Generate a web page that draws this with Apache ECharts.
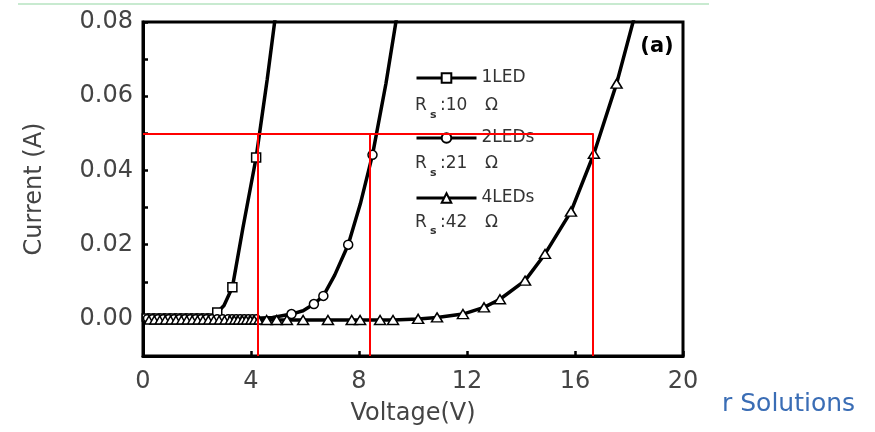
<!DOCTYPE html>
<html><head><meta charset="utf-8">
<script src="https://cdn.jsdelivr.net/npm/echarts@6/dist/echarts.min.js"></script>
<style>html,body{margin:0;padding:0;background:#fff}#c{width:875px;height:432px}</style>
</head><body><div id="c"></div>
<script>
const FONT = 'DejaVu Sans';
// axis ranges
const xMin = 0, xMax = 20, xStep = 4;
const yMin = -0.01, yMax = 0.08, yStep = 0.01;
const yLabelEvery = 0.02;

// legend / series names
const seriesNames = ['1LED', '2LEDs', '4LEDs'];
const resistances = ['10', '21', '42'];

// 1 LED (squares): dense low-voltage points, marked points, extra line points
const led1DenseV = [0.10,0.30,0.50,0.70,0.90,1.10,1.30,1.50,1.70,1.90,2.10,2.30,2.50];
const led1DenseI = 0.0004;
const led1Marks = [[2.75,0.0017],[3.31,0.0085],[4.19,0.0435]];
const led1Line  = [[0.00,0.0004],[3.00,0.0036],[3.70,0.0245],[4.60,0.0645],[5.00,0.0870]];

// 2 LEDs (circles)
const led2DenseV = [0.15,0.35,0.55,0.75,0.95,1.15,1.35,1.55,1.75,1.95,2.15,2.35,2.55,2.75,2.95,3.15,3.30,3.45,3.60,3.75,3.90,4.05,4.20];
const led2DenseI = 0.0002;
const led2Marks = [[5.50,0.0013],[6.33,0.0040],[6.68,0.0062],[7.60,0.0200],[8.50,0.0442]];
const led2Line  = [[0.00,0.0002],[4.80,0.0004],[5.93,0.0022],[7.10,0.0118],[8.05,0.0310],[9.00,0.0635],[9.50,0.0860]];

// 4 LEDs (triangles)
const led4DenseV = [0.22,0.42,0.62,0.82,1.02,1.22,1.42,1.62,1.82,2.02,2.22,2.42,2.62,2.82,3.02,3.22,3.38,3.52,3.68,3.82,3.98,4.12,4.28];
const led4DenseI = -0.0003;
const led4Marks = [[4.58,-0.0003],[4.95,-0.0003],[5.33,-0.0003],[5.93,-0.0003],[6.85,-0.0003],[7.73,-0.0003],[8.04,-0.0003],[8.78,-0.0003],[9.26,-0.0003],[10.19,0.0000],[10.89,0.0004],[11.85,0.0013],[12.63,0.0031],[13.22,0.0053],[14.15,0.0103],[14.89,0.0175],[15.85,0.0289],[16.70,0.0445],[17.54,0.0634]];
const led4Line  = [[0.00,-0.0003],[18.15,0.0800],[18.40,0.0870]];

// red guide lines
const guideCurrent = 0.05;
const guideVoltages = [4.26, 8.41, 16.67];

function build(denseV, denseI, marks, line, denseSize, markSize) {
  const pts = [];
  denseV.forEach(v => pts.push({value:[v, denseI], symbolSize: denseSize}));
  marks.forEach(p => pts.push({value:[p[0], p[1]], symbolSize: markSize}));
  line.forEach(p => pts.push({value:[p[0], p[1]], symbol: 'none'}));
  pts.sort((a, b) => a.value[0] - b.value[0]);
  return pts;
}

const lineStyle = {color:'#000', width:3.5};
const itemStyle = {color:'#fff', borderColor:'#000', borderWidth:1.5};

function mkSeries(name, symbol, data) {
  return {name, type:'line', symbol, data, lineStyle, itemStyle,
    showAllSymbol:true, clip:true, z:2, animation:false, silent:true,
    emphasis:{disabled:true}};
}

const guideLines = guideVoltages.map(v => [{coord:[v, yMin]}, {coord:[v, guideCurrent]}]);
guideLines.push([{coord:[xMin, guideCurrent]}, {coord:[guideVoltages[guideVoltages.length-1], guideCurrent]}]);

const chart = echarts.init(document.getElementById('c'), null, {renderer:'canvas'});

const rsText = [];
const rsY = [106, 164, 222.5];
resistances.forEach((r, k) => {
  rsText.push({type:'text', x:415, y:rsY[k], style:{text:'R', font:'17px ' + FONT, fill:'#333', textAlign:'left', textVerticalAlign:'middle'}});
  rsText.push({type:'text', x:430, y:rsY[k] + 9, style:{text:'s', font:'bold 11px ' + FONT, fill:'#333', textAlign:'left', textVerticalAlign:'middle'}});
  rsText.push({type:'text', x:440, y:rsY[k], style:{text:':' + r, font:'17px ' + FONT, fill:'#333', textAlign:'left', textVerticalAlign:'middle'}});
  rsText.push({type:'text', x:485, y:rsY[k], style:{text:'Ω', font:'17px ' + FONT, fill:'#333', textAlign:'left', textVerticalAlign:'middle'}});
});

chart.setOption({
  animation:false,
  backgroundColor:'#fff',
  grid:{left:143, right:192, top:22, bottom:76, show:true, borderColor:'#000', borderWidth:3, backgroundColor:'transparent'},
  legend:{
    data: seriesNames, orient:'vertical', left:415, top:69, padding:0, itemWidth:60, itemHeight:12, itemGap:42,
    lineStyle:{width:3, color:'#000'},
    textStyle:{fontFamily:FONT, fontSize:17, color:'#333', lineHeight:18}, selectedMode:false
  },
  xAxis:{
    type:'value', min:xMin, max:xMax, interval:xStep,
    name:'Voltage(V)', nameLocation:'middle', nameGap:46,
    nameTextStyle:{fontFamily:FONT, fontSize:24, color:'#444'},
    axisLine:{show:true, onZero:false, lineStyle:{color:'#000', width:3}},
    axisTick:{show:true, inside:true, length:5, lineStyle:{color:'#000', width:2.5}},
    axisLabel:{fontFamily:FONT, fontSize:24, color:'#444', margin:14, showMinLabel:true, showMaxLabel:true},
    splitLine:{show:false}
  },
  yAxis:{
    type:'value', min:yMin, max:yMax, interval:yStep,
    name:'Current (A)', nameLocation:'middle', nameGap:96,
    nameTextStyle:{fontFamily:FONT, fontSize:24, color:'#444'},
    axisLine:{show:true, onZero:false, lineStyle:{color:'#000', width:3}},
    axisTick:{show:true, inside:true, length:5, lineStyle:{color:'#000', width:2.5}},
    axisLabel:{fontFamily:FONT, fontSize:24, color:'#444', margin:10,
      formatter: v => {
        const n = Math.round(v / yStep);
        const every = Math.round(yLabelEvery / yStep);
        return (v >= -1e-9 && n % every === 0) ? v.toFixed(2) : '';
      }},
    splitLine:{show:false}
  },
  series:[
    mkSeries(seriesNames[0], 'rect', build(led1DenseV, led1DenseI, led1Marks, led1Line, 7, 9)),
    mkSeries(seriesNames[1], 'circle', build(led2DenseV, led2DenseI, led2Marks, led2Line, 7, 9)),
    mkSeries(seriesNames[2], 'triangle', build(led4DenseV, led4DenseI, led4Marks, led4Line, [9,8], [11,9])),
    {type:'line', name:'guides', data:[], z:10, silent:true,
      markLine:{silent:true, symbol:['none','none'], label:{show:false}, animation:false,
        lineStyle:{color:'#ff0000', width:2, type:'solid'}, emphasis:{disabled:true}, data:guideLines}}
  ],
  graphic:[
    {type:'line', shape:{x1:18, y1:4, x2:709, y2:4}, style:{stroke:'#c8ead0', lineWidth:2}, silent:true},
    {type:'text', x:657, y:47, style:{text:'(a)', font:'bold 21px ' + FONT, fill:'#000', textAlign:'center', textVerticalAlign:'middle'}},
    {type:'text', x:722, y:404, style:{text:'r Solutions', font:'25px ' + FONT, fill:'#3a6db5', textAlign:'left', textVerticalAlign:'middle'}}
  ].concat(rsText)
});
</script></body></html>
